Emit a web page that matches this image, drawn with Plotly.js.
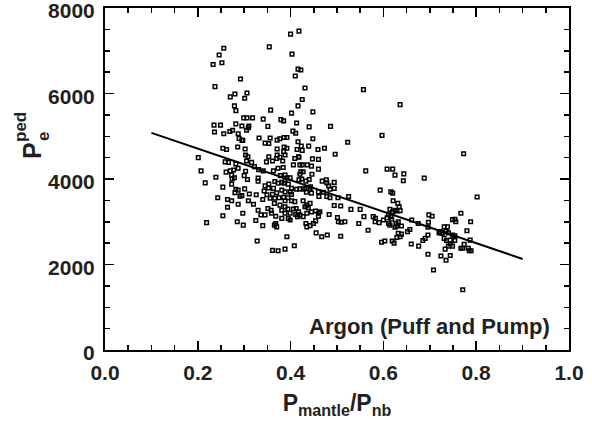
<!DOCTYPE html>
<html>
<head>
<meta charset="utf-8">
<script src="https://cdn.plot.ly/plotly-3.0.1.min.js"></script>
<style>html,body{margin:0;padding:0;background:#fff;}#chart{width:592px;height:434px;}</style>
</head>
<body>
<div id="chart"></div>
<script>
// P_mantle / P_nb
const xVals = [
0.256,0.246,0.233,0.252,0.354,0.400,0.418,0.292,0.237,0.270,0.280,0.306,0.301,0.279,0.282,0.357,0.299,0.306,0.318,0.341,
0.379,0.385,0.235,0.249,0.282,0.295,0.310,0.309,0.351,0.236,0.256,0.269,0.275,0.287,0.305,0.289,0.295,0.297,0.332,0.356,
0.345,0.353,0.371,0.377,0.386,0.392,0.254,0.262,0.286,0.302,0.371,0.386,0.392,0.201,0.303,0.308,0.353,0.371,0.385,0.388,
0.377,0.403,0.416,0.422,0.410,0.431,0.557,0.425,0.416,0.448,0.402,0.413,0.440,0.486,0.405,0.411,0.597,0.416,0.448,0.523,
0.414,0.423,0.425,0.439,0.459,0.473,0.496,0.418,0.447,0.460,0.636,0.773,0.259,0.266,0.282,0.305,0.316,0.348,0.361,0.370,
0.383,0.207,0.261,0.270,0.277,0.287,0.303,0.322,0.331,0.341,0.363,0.373,0.384,0.239,0.273,0.279,0.274,0.300,0.307,0.330,
0.378,0.388,0.392,0.216,0.273,0.330,0.353,0.366,0.373,0.381,0.386,0.254,0.282,0.287,0.280,0.301,0.345,0.352,0.363,0.343,
0.349,0.361,0.370,0.381,0.388,0.311,0.295,0.291,0.326,0.243,0.264,0.273,0.287,0.309,0.320,0.340,0.356,0.366,0.375,0.385,
0.388,0.365,0.377,0.388,0.264,0.330,0.351,0.358,0.381,0.388,0.254,0.297,0.336,0.345,0.359,0.368,0.381,0.219,0.285,0.298,
0.325,0.340,0.365,0.370,0.368,0.392,0.328,0.361,0.373,0.388,0.408,0.409,0.417,0.406,0.420,0.425,0.436,0.445,0.460,0.422,
0.427,0.420,0.446,0.562,0.608,0.399,0.388,0.418,0.424,0.433,0.440,0.468,0.477,0.478,0.494,0.494,0.482,0.485,0.395,0.402,
0.413,0.420,0.427,0.431,0.442,0.443,0.434,0.445,0.460,0.471,0.478,0.485,0.461,0.502,0.525,0.593,0.399,0.402,0.394,0.402,
0.409,0.427,0.435,0.442,0.431,0.438,0.394,0.406,0.412,0.417,0.411,0.420,0.415,0.399,0.395,0.399,0.427,0.435,0.445,0.454,
0.460,0.463,0.460,0.494,0.508,0.483,0.530,0.550,0.558,0.501,0.503,0.509,0.517,0.578,0.583,0.582,0.591,0.600,0.608,0.547,
0.433,0.435,0.442,0.449,0.454,0.455,0.467,0.479,0.508,0.567,0.596,0.603,0.616,0.620,0.621,0.631,0.634,0.636,0.614,0.620,
0.625,0.629,0.611,0.616,0.618,0.611,0.614,0.627,0.632,0.629,0.639,0.625,0.661,0.675,0.657,0.652,0.632,0.639,0.636,0.629,
0.619,0.623,0.660,0.676,0.620,0.625,0.644,0.643,0.688,0.802,0.698,0.705,0.767,0.697,0.749,0.756,0.754,0.788,0.696,0.731,
0.738,0.735,0.780,0.720,0.726,0.722,0.728,0.740,0.749,0.754,0.696,0.690,0.685,0.731,0.736,0.744,0.754,0.787,0.744,0.749,
0.740,0.774,0.771,0.767,0.783,0.789,0.785,0.733,0.696,0.724,0.744,0.735,0.708,0.771
];
// P_e^ped
const yVals = [
7060,6900,6680,6720,7090,7390,7460,6340,6160,5920,5990,6010,5890,5710,5600,5610,5430,5430,5430,5400,
5390,5360,5260,5260,5290,5240,5240,5200,5230,5100,5060,5110,5140,5060,5140,4950,4910,4900,4960,4960,
4840,4830,4910,4940,4970,4970,4720,4690,4750,4700,4700,4750,4720,4500,4560,4520,4520,4560,4640,4560,
4510,6920,6570,6550,6410,6130,6090,5860,5710,5570,5540,5310,5220,5230,5120,5070,5020,4870,4940,4860,
4690,4770,4670,4770,4690,4720,4580,4510,4470,4460,5740,4590,4400,4390,4350,4420,4390,4400,4420,4480,
4420,4190,4160,4190,4210,4250,4180,4290,4220,4190,4190,4250,4270,4040,4090,4030,4000,4080,3990,4020,
4080,4090,4030,3910,3880,3950,3880,3940,3900,3920,3900,3810,3760,3740,3680,3770,3840,3790,3780,3720,
3630,3640,3680,3740,3700,3650,3610,3600,3630,3560,3520,3490,3410,3490,3410,3520,3550,3550,3560,3570,
3490,3430,3390,3350,3340,3270,3310,3270,3270,3200,3140,3200,3160,3160,3200,3130,3080,2980,3000,2920,
3030,2910,2920,2880,2960,2650,2550,2330,2320,2360,2440,4480,4520,4330,4330,4330,4330,4300,4230,4170,
4170,4110,4110,4190,4230,4030,3980,3980,4000,3950,3990,3950,3980,3910,3920,3780,3840,3760,3880,3780,
3760,3770,3760,3780,3780,3820,3690,3670,3700,3690,3590,3560,3590,3560,3590,3740,3700,3640,3560,3490,
3470,3490,3390,3430,3350,3330,3300,3300,3310,3230,3170,3160,3120,3200,3080,3040,3120,3200,3230,3250,
3200,3230,3130,3380,3370,3170,3290,3290,3120,3100,3000,2990,3000,3120,3080,3000,2980,3040,3090,2960,
2960,2880,2910,2960,3020,2740,2650,2690,2660,2800,2520,2550,3700,3670,3490,3430,3350,3260,3290,3230,
3270,3250,3160,3120,3060,2960,2920,2960,3000,2900,2900,2870,3040,2960,2820,2770,2730,2710,2650,2630,
2550,2500,2480,2430,4230,4090,4120,3960,4020,3580,3160,3130,3200,2990,3050,3000,3060,3000,2870,2880,
2880,2790,2790,2740,2730,2770,2740,2740,2690,2670,2690,2610,2560,2610,2560,2570,2560,2570,2480,2430,
2430,2470,2380,2380,2380,2320,2320,2360,2240,2200,2210,2100,1870,1410
];
// regression line end points
const fitX = [0.1, 0.9];
const fitY = [5080, 2130];

const xTickVals = [0, 0.2, 0.4, 0.6, 0.8, 1.0];
const xTickText = ['0.0', '0.2', '0.4', '0.6', '0.8', '1.0'];
const yTickVals = [0, 2000, 4000, 6000, 8000];
const yTickText = ['0', '2000', '4000', '6000', '8000'];
const labelText = 'Argon (Puff and Pump)';

const FAM = '"Liberation Sans", Arial, Helvetica, sans-serif';
const TXT = '#231f20';

const traces = [
  {x: xVals, y: yVals, type: 'scatter', mode: 'markers',
   marker: {symbol: 'square-open', size: 3.6, color: '#000', line: {width: 1.5, color: '#000'}},
   hoverinfo: 'skip', cliponaxis: false},
  {x: fitX, y: fitY, type: 'scatter', mode: 'lines', line: {color: '#000', width: 2}, hoverinfo: 'skip'}
];

const axisCommon = {
  showline: true, linecolor: '#000', linewidth: 2, mirror: 'allticks',
  ticks: 'inside', ticklen: 9, tickwidth: 1.5, tickcolor: '#000',
  showgrid: false, zeroline: false, fixedrange: true,
  ticklabeloverflow: 'allow',
  tickfont: {family: FAM, size: 21, color: TXT, weight: 'bold'}
};

const layout = {
  width: 592, height: 434,
  margin: {l: 105, r: 23, t: 8, b: 84},
  paper_bgcolor: '#fff', plot_bgcolor: '#fff',
  showlegend: false,
  xaxis: Object.assign({}, axisCommon, {
    range: [0, 1], tickmode: 'array', tickvals: xTickVals, ticktext: xTickText,
    minor: {dtick: 0.05, ticklen: 5, tickwidth: 1.5, tickcolor: '#000', ticks: 'inside', showgrid: false},
    ticklabelstandoff: 3,
    title: {text: 'P<sub>mantle</sub>/P<sub>nb</sub>', font: {family: FAM, size: 23, color: TXT, weight: 'bold'}, standoff: 12}
  }),
  yaxis: Object.assign({}, axisCommon, {
    range: [0, 8000], tickmode: 'array', tickvals: yTickVals, ticktext: yTickText,
    minor: {dtick: 500, ticklen: 5, tickwidth: 1.5, tickcolor: '#000', ticks: 'inside', showgrid: false},
    ticklabelstandoff: 4,
    ticklabelshift: 3,
    title: {text: ''}
  }),
  annotations: [
    {text: labelText, xref: 'paper', yref: 'paper', x: 0.963, y: (350 - 326) / 342, xanchor: 'right', yanchor: 'middle',
     showarrow: false, font: {family: FAM, size: 22, color: TXT, weight: 'bold'}},
    {text: 'P', xref: 'paper', yref: 'paper', x: (32 - 105) / 464, y: (350 - 151) / 342, xanchor: 'center', yanchor: 'middle',
     textangle: -90, showarrow: false, font: {family: FAM, size: 25, color: TXT, weight: 'bold'}},
    {text: 'ped', xref: 'paper', yref: 'paper', x: (20 - 105) / 464, y: (350 - 127) / 342, xanchor: 'center', yanchor: 'middle',
     textangle: -90, showarrow: false, font: {family: FAM, size: 17, color: TXT, weight: 'bold'}},
    {text: 'e', xref: 'paper', yref: 'paper', x: (44 - 105) / 464, y: (350 - 137) / 342, xanchor: 'center', yanchor: 'middle',
     textangle: -90, showarrow: false, font: {family: FAM, size: 17, color: TXT, weight: 'bold'}}
  ]
};

Plotly.newPlot('chart', traces, layout, {staticPlot: true, displayModeBar: false});
</script>
</body>
</html>
